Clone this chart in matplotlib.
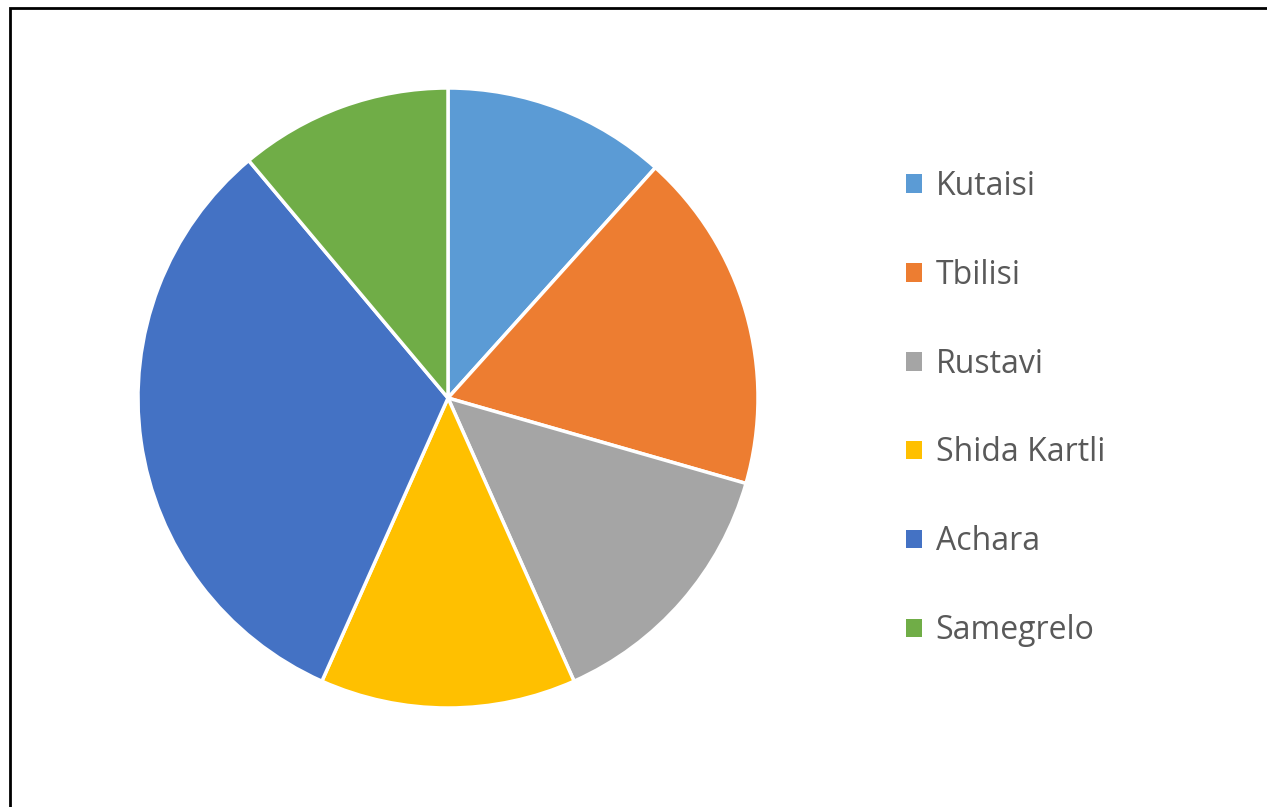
import matplotlib.pyplot as plt
from matplotlib.patches import Rectangle

regions = ['Kutaisi', 'Tbilisi', 'Rustavi', 'Shida Kartli', 'Achara', 'Samegrelo']
counts = [21, 32, 25, 24, 58, 20]
colors = ['#5B9BD5', '#ED7D31', '#A5A5A5', '#FFC000', '#4472C4', '#70AD47']

W, H = 1267, 807
fig = plt.figure(figsize=(W / 100, H / 100), dpi=100)

# pie centred at (448, 398) px, radius ~310 px
cx, cy, r = 448, 398, 310
ax = fig.add_axes([(cx - r) / W, (H - cy - r) / H, 2 * r / W, 2 * r / H])
wedges, _ = ax.pie(counts, colors=colors, startangle=90, counterclock=False,
                   wedgeprops=dict(edgecolor='white', linewidth=2.5))
ax.set_xlim(-1, 1)
ax.set_ylim(-1, 1)
ax.set_aspect('equal')

leg = fig.legend(wedges, regions, loc='upper left',
                 bbox_to_anchor=(877 / W, 1 - 141 / H),
                 frameon=False, labelcolor='#595959',
                 handlelength=0.52, handleheight=0.52, handletextpad=0.42,
                 labelspacing=1.75, prop={'family': 'Open Sans', 'size': 23})
for h in leg.legend_handles:
    h.set_edgecolor('none')

# frame line on the left and top edges
fig.patches.append(Rectangle((9.5 / W, -0.1), 1.2, 1.1 - 7.5 / H,
                             transform=fig.transFigure, fill=False,
                             edgecolor='black', linewidth=2))

fig.savefig('out.png', dpi=100)
